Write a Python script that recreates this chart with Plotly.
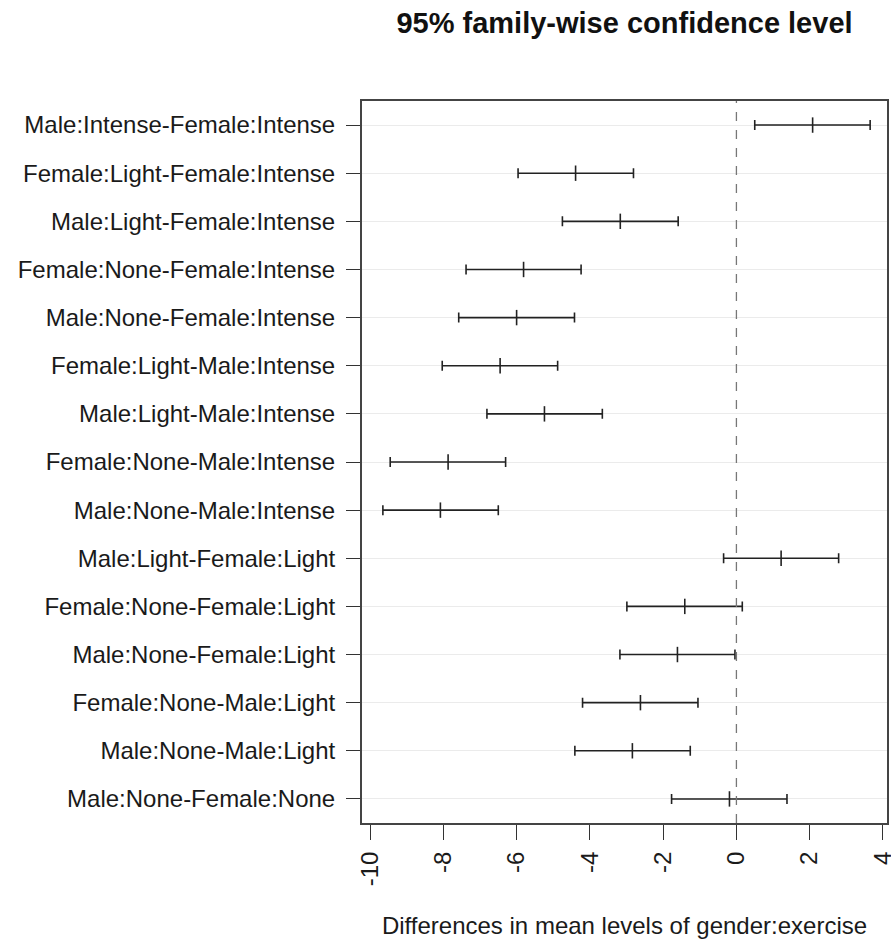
import plotly.graph_objects as go

# Tukey HSD comparisons of gender:exercise groups (top to bottom)
comparisons = [
    "Male:Intense-Female:Intense",
    "Female:Light-Female:Intense",
    "Male:Light-Female:Intense",
    "Female:None-Female:Intense",
    "Male:None-Female:Intense",
    "Female:Light-Male:Intense",
    "Male:Light-Male:Intense",
    "Female:None-Male:Intense",
    "Male:None-Male:Intense",
    "Male:Light-Female:Light",
    "Female:None-Female:Light",
    "Male:None-Female:Light",
    "Female:None-Male:Light",
    "Male:None-Male:Light",
    "Male:None-Female:None",
]
diff = [2.08, -4.39, -3.17, -5.81, -6.00, -6.45, -5.24, -7.87, -8.08,
        1.22, -1.41, -1.61, -2.62, -2.84, -0.19]
lwr = [0.50, -5.96, -4.75, -7.38, -7.58, -8.03, -6.81, -9.45, -9.65,
       -0.35, -2.99, -3.18, -4.20, -4.41, -1.77]
upr = [3.65, -2.81, -1.59, -4.24, -4.42, -4.88, -3.66, -6.30, -6.50,
       2.79, 0.16, -0.04, -1.05, -1.26, 1.38]
x_ticks = [-10, -8, -6, -4, -2, 0, 2, 4]

FONT = "Liberation Sans, Arial, Helvetica, sans-serif"
INK = "#222222"

fig = go.Figure()

fig.add_trace(go.Scatter(
    x=diff,
    y=comparisons,
    mode="markers",
    marker=dict(symbol="line-ns", size=11, color=INK,
                line=dict(width=1.6, color=INK)),
    error_x=dict(
        type="data",
        symmetric=False,
        array=[u - d for u, d in zip(upr, diff)],
        arrayminus=[d - l for d, l in zip(diff, lwr)],
        color=INK,
        thickness=1.6,
        width=5,
    ),
    showlegend=False,
    hoverinfo="skip",
))

# reference line at zero difference
fig.add_vline(x=0, line=dict(color="#777777", width=1.3, dash="dash"))

fig.update_layout(
    width=891,
    height=940,
    margin=dict(l=362, r=4, t=101, b=117, autoexpand=False),
    paper_bgcolor="white",
    plot_bgcolor="white",
    font=dict(family=FONT, size=24, color="#1a1a1a"),
    title=dict(
        text="<b>95% family-wise confidence level</b>",
        font=dict(family=FONT, size=29, color="#111111"),
        x=0.5, xref="paper", xanchor="center",
        y=1 - 33 / 940, yref="container", yanchor="bottom",
    ),
    xaxis=dict(
        range=[-10.22, 4.11],
        tickmode="array",
        tickvals=x_ticks,
        ticktext=[str(v) for v in x_ticks],
        tickangle=-90,
        ticks="outside",
        ticklen=15,
        tickwidth=1.3,
        tickcolor="#333333",
        showgrid=False,
        zeroline=False,
        showline=True,
        linecolor="#444444",
        linewidth=2,
        mirror=True,
        automargin=False,
        ticklabelstandoff=2,
        ticklabeloverflow="allow",
        title=dict(text="Differences in mean levels of gender:exercise",
                   font=dict(size=24), standoff=32),
    ),
    yaxis=dict(
        categoryorder="array",
        categoryarray=comparisons,
        autorange=False,
        range=[len(comparisons) - 0.5, -0.5],
        ticks="outside",
        ticklen=14,
        tickwidth=1.3,
        tickcolor="#333333",
        showgrid=True,
        gridcolor="#ebebeb",
        gridwidth=1,
        zeroline=False,
        showline=True,
        linecolor="#444444",
        linewidth=2,
        mirror=True,
        automargin=False,
        ticklabelstandoff=6,
    ),
)

fig.write_html("out.html")
